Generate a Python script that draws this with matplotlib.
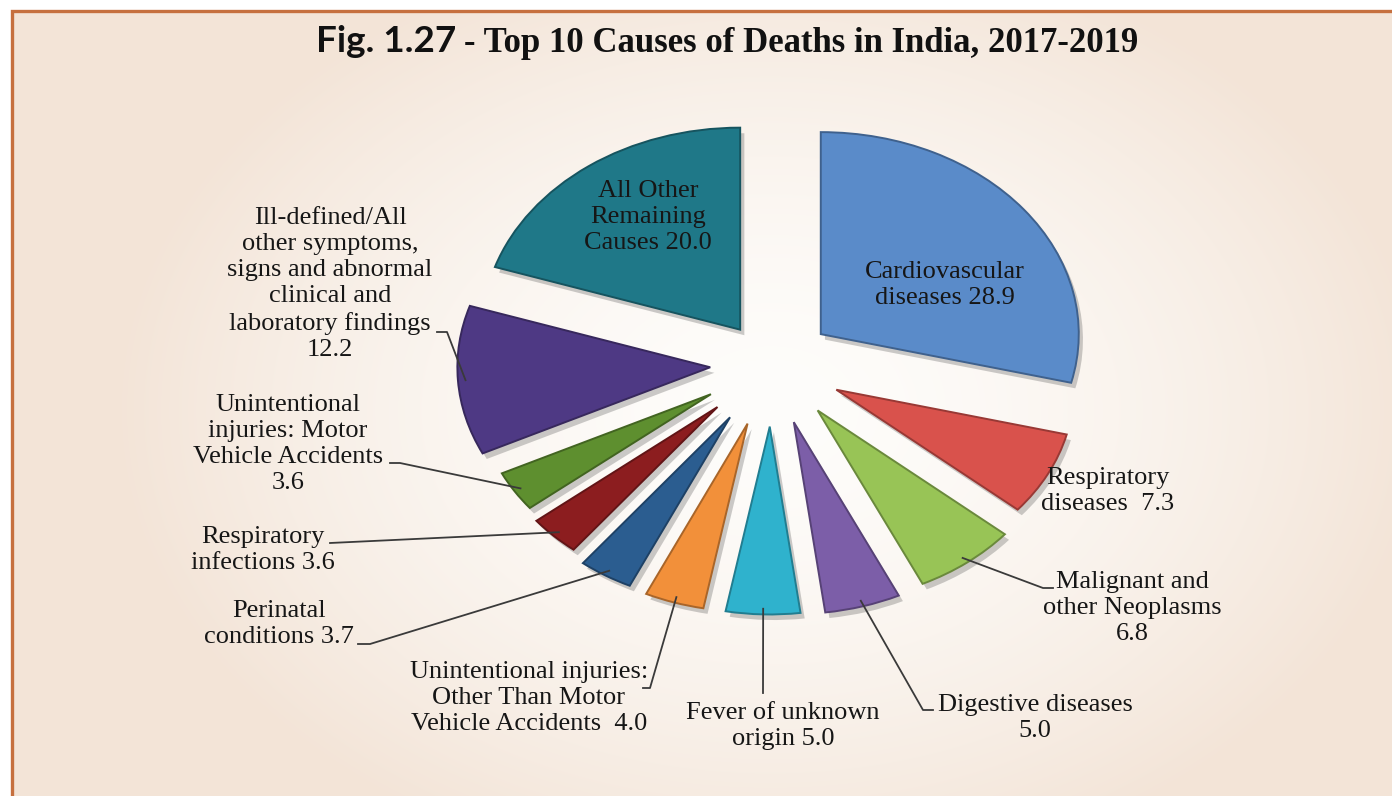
import numpy as np
import matplotlib
matplotlib.use('Agg')
import matplotlib.pyplot as plt
import matplotlib.patheffects as pe
from matplotlib.colors import to_rgb


# Data (share of deaths, %)
causes = ['Cardiovascular\ndiseases', 'Respiratory\ndiseases', 'Malignant and\nother Neoplasms',
          'Digestive diseases', 'Fever of unknown\norigin',
          'Unintentional injuries:\nOther Than Motor\nVehicle Accidents', 'Perinatal\nconditions',
          'Respiratory\ninfections', 'Unintentional\ninjuries: Motor\nVehicle Accidents',
          'Ill-defined/All\nother symptoms,\nsigns and abnormal\nclinical and\nlaboratory findings',
          'All Other\nRemaining\nCauses']
shares = [28.9, 7.3, 6.8, 5.0, 5.0, 4.0, 3.7, 3.6, 3.6, 12.2, 20.0]
value_sep = [' ', '  ', '\n', '\n', ' ', '  ', ' ', ' ', '\n', '\n', ' ']

colors = ['#5a8bc9', '#d9524c', '#98c456', '#7c5ea8', '#2fb2cd', '#f2903a',
          '#2b5d90', '#8c1d1f', '#5e8f2f', '#4e3984', '#1f7888']
explode = [0.24, 0.28, 0.29, 0.30, 0.31, 0.31, 0.31, 0.30, 0.28, 0.24, 0.21]
# the front slices look a little shorter in the tilted original
wedge_radius = [1.0, 0.92, 0.95, 0.95, 0.93, 0.93, 0.92, 0.9, 0.9, 0.98, 1.0]

# label placement in pixels (center of text block); leader lines run from the
# slice edge to these elbow points
label_pos = [(945, 285), (1108, 491), (1132, 608), (1035, 718), (783, 726), (529, 698),
             (279, 624), (263, 550), (288, 444), (330, 284), (648, 217)]
leaders = [None, None,
           [(1043, 588), (1053, 588)],
           [(923, 710), (933, 710)],
           [(763, 693)],
           [(650, 688), (643, 688)],
           [(370, 644), (358, 644)],
           [(330, 543)],
           [(400, 463), (390, 463)],
           [(447, 332), (437, 332)],
           None]

W, H = 1392, 796
CX, CY = 772, 364      # pie center in pixels
RX, RY = 258, 202      # pie radius in pixels (tilted look)


def px(x, y):
    return (x - CX) / RX, (CY - y) / RY


def darker(c, f=0.7):
    r, g, b = to_rgb(c)
    return (r * f, g * f, b * f)


fig = plt.figure(figsize=(W / 100, H / 100), dpi=100, facecolor='white')
ax = fig.add_axes([0, 0, 1, 1])
ax.patch.set_visible(False)

# radial beige background
yy, xx = np.mgrid[13:H, 13:W]
d = np.sqrt(((xx - 770) / 660) ** 2 + ((yy - 410) / 480) ** 2)
t = np.clip(d, 0, 1) ** 1.6
inner = np.array(to_rgb('#fefdfb'))
outer = np.array(to_rgb('#f3e4d7'))
img = inner + (outer - inner) * t[..., None]
x0, y0 = px(13, 13)
x1, y1 = px(W, H)
ax.imshow(img, extent=(x0, x1, y1, y0), aspect='auto', zorder=0, interpolation='bilinear')

# border
bx, by = zip(px(12, H), px(12, 11), px(W, 11))
ax.plot(bx, by, color='#c6703f', lw=2.4, zorder=1, solid_joinstyle='miter')

wedges, _ = ax.pie(shares, explode=explode, colors=colors, startangle=90,
                   counterclock=False, radius=1, center=(0, 0),
                   wedgeprops=dict(linewidth=1.4))
for w, c, r in zip(wedges, colors, wedge_radius):
    w.set_radius(r)
    w.set_edgecolor(darker(c))
    w.set_zorder(3)
    w.set_path_effects([pe.SimplePatchShadow(offset=(3, -4), alpha=0.3,
                                             shadow_rgbFace='#555555'), pe.Normal()])

ax.set_aspect('auto')
ax.set_xlim(px(0, 0)[0], px(W, 0)[0])
ax.set_ylim(px(0, H)[1], px(0, 0)[1])
ax.axis('off')

# labels
for w, name, v, sep, pos, line in zip(wedges, causes, shares, value_sep, label_pos, leaders):
    tx, ty = px(*pos)
    ax.text(tx, ty, name + sep + f'{v:.1f}', ha='center', va='center',
            multialignment='center', fontsize=19, family='Liberation Serif',
            color='#161616', linespacing=1.24, zorder=5)
    if line:
        ang = np.deg2rad((w.theta1 + w.theta2) / 2)
        sx = w.center[0] + 0.97 * w.r * np.cos(ang)
        sy = w.center[1] + 0.97 * w.r * np.sin(ang)
        pts = [(sx, sy)] + [px(*p) for p in line]
        lx, ly = zip(*pts)
        ax.plot(lx, ly, color='#3a3a3a', lw=1.3, zorder=4)

# title
fig.text(456 / W, 1 - 52 / H, 'Fig. 1.27', ha='right', va='baseline', fontsize=26.5,
         fontweight='bold', family=['Lato', 'DejaVu Sans'], color='#111111')
fig.text(464 / W, 1 - 52 / H, '- Top 10 Causes of Deaths in India, 2017-2019', ha='left',
         va='baseline', fontsize=25, fontweight='bold', family='Liberation Serif',
         color='#111111')

fig.savefig('out.png', dpi=100, facecolor='white')
